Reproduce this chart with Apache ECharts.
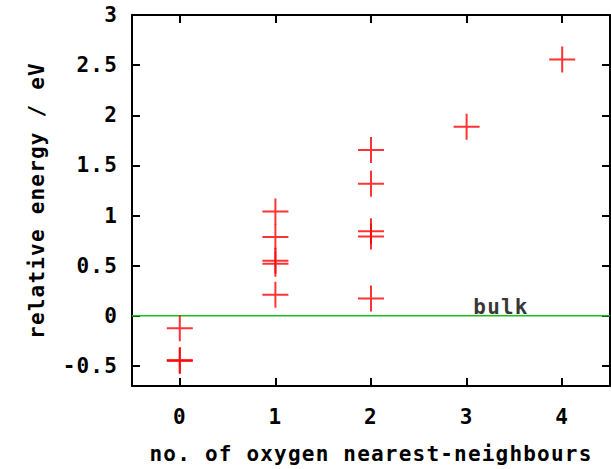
<!DOCTYPE html>
<html>
<head>
<meta charset="utf-8">
<script src="https://cdn.jsdelivr.net/npm/echarts@6/dist/echarts.min.js"></script>
<style>
  html, body { margin: 0; padding: 0; background: #fff; }
  #chart { width: 611px; height: 469px; }
  /* wide terminal-style lettering */
  #chart text { letter-spacing: 1.2px; }
</style>
</head>
<body>
<div id="chart"></div>
<script>
// number of oxygen nearest neighbours for each configuration
const neighbours = [0, 0, 0, 1, 1, 1, 1, 1, 2, 2, 2, 2, 2, 3, 4];
// relative energy of each configuration (eV)
const energies = [-0.123, -0.44, -0.45, 1.04, 0.785, 0.549, 0.52, 0.21, 1.653, 1.316, 0.844, 0.79, 0.172, 1.886, 2.555];
// bulk reference energy
const bulkEnergy = 0;
const bulkLabelX = 3.36;

const xTicks = [0, 1, 2, 3, 4];
const yTicks = [-0.5, 0, 0.5, 1, 1.5, 2, 2.5, 3];

const points = neighbours.map((n, i) => [n, energies[i]]);

const FONT = '"DejaVu Sans Mono", monospace';
const textStyle = { fontFamily: FONT, fontWeight: 'bold', fontSize: 21, color: '#000' };

const chart = echarts.init(document.getElementById('chart'), null, { renderer: 'svg' });

const axisLine = { show: true, lineStyle: { color: '#000', width: 2 } };
const tickStyle = { lineStyle: { color: '#000', width: 2 } };

chart.setOption({
  animation: false,
  backgroundColor: '#fff',
  grid: { left: 132, top: 15, right: 1, bottom: 78, containLabel: false },
  xAxis: [
    {
      type: 'value', min: -0.5, max: 4.5, position: 'bottom',
      axisLine: Object.assign({ onZero: false }, axisLine),
      axisTick: Object.assign({ inside: true, length: 8, customValues: xTicks }, tickStyle),
      axisLabel: Object.assign({ margin: 20, customValues: xTicks }, textStyle),
      splitLine: { show: false },
      name: 'no. of oxygen nearest-neighbours',
      nameLocation: 'middle', nameGap: 57,
      nameTextStyle: textStyle
    },
    {
      type: 'value', min: -0.5, max: 4.5, position: 'top',
      axisLine: Object.assign({ onZero: false }, axisLine),
      axisTick: Object.assign({ inside: true, length: 8, customValues: xTicks }, tickStyle),
      axisLabel: { show: false },
      splitLine: { show: false }
    }
  ],
  yAxis: [
    {
      type: 'value', min: -0.7, max: 3, position: 'left',
      axisLine: Object.assign({ onZero: false }, axisLine),
      axisTick: Object.assign({ inside: true, length: 8, customValues: yTicks }, tickStyle),
      axisLabel: Object.assign({ margin: 14, customValues: yTicks }, textStyle),
      splitLine: { show: false },
      name: 'relative energy / eV',
      nameLocation: 'middle', nameGap: 85,
      nameTextStyle: textStyle
    },
    {
      type: 'value', min: -0.7, max: 3, position: 'right',
      axisLine: Object.assign({ onZero: false }, axisLine),
      axisTick: Object.assign({ inside: true, length: 8, customValues: yTicks }, tickStyle),
      axisLabel: { show: false },
      splitLine: { show: false }
    }
  ],
  series: [
    {
      type: 'line',
      data: [[-0.5, bulkEnergy], [4.5, bulkEnergy]],
      symbol: 'none',
      lineStyle: { color: '#19c219', width: 1.5 },
      z: 1
    },
    {
      type: 'scatter',
      data: [[bulkLabelX, bulkEnergy]],
      symbolSize: 0,
      label: {
        show: true, position: 'top', distance: -2,
        formatter: 'bulk',
        fontFamily: FONT, fontWeight: 'bold', fontSize: 21, color: '#000'
      },
      z: 2
    },
    {
      type: 'scatter',
      data: points,
      symbol: 'path://M0,13H26M13,0V26',
      symbolSize: 26,
      itemStyle: { color: 'none', borderColor: '#ff0000', borderWidth: 2 },
      z: 3
    }
  ]
});
</script>
</body>
</html>
